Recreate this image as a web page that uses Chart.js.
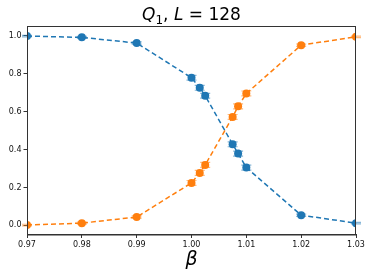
<!DOCTYPE html>
<html>
<head>
<meta charset="utf-8">
<script src="https://cdn.jsdelivr.net/npm/chart.js@4/dist/chart.umd.min.js"></script>
<style>
  html, body { margin: 0; padding: 0; background: #fff; }
  #wrap { width: 374px; height: 280px; }
</style>
</head>
<body>
<div id="wrap"><canvas id="chart" width="374" height="280"></canvas></div>
<script>
// beta values (x axis)
var betas = [0.97, 0.98, 0.99, 1.0, 1.0015, 1.0025, 1.0075, 1.0085, 1.01, 1.02, 1.03];
// Q1 series
var blueVals = [0.999, 0.992, 0.962, 0.779, 0.726, 0.684, 0.428, 0.379, 0.305, 0.054, 0.012];
var orangeVals = [0.002, 0.012, 0.044, 0.224, 0.277, 0.319, 0.572, 0.628, 0.696, 0.951, 0.995];
// error bars
var blueErr = [0.004, 0.005, 0.006, 0.013, 0.013, 0.013, 0.013, 0.013, 0.013, 0.006, 0.004];
var orangeErr = [0.004, 0.005, 0.006, 0.013, 0.013, 0.013, 0.013, 0.013, 0.013, 0.006, 0.004];
var xTicks = [0.97, 0.98, 0.99, 1.0, 1.01, 1.02, 1.03];
var yTicks = [0.0, 0.2, 0.4, 0.6, 0.8, 1.0];

var BLUE = '#1f77b4';
var ORANGE = '#ff7f0e';

function toPoints(xs, ys) {
    return xs.map(function(x, i) { return { x: x, y: ys[i] }; });
}

// error bars, frame and title drawn on the canvas
var extras = {
    id: 'extras',
    beforeDatasetsDraw: function(chart) {
        var ctx = chart.ctx;
        var xs = chart.scales.x, ys = chart.scales.y;
        var sets = [[blueVals, blueErr, 'rgba(31,119,180,0.55)'], [orangeVals, orangeErr, 'rgba(255,127,14,0.55)']];
        ctx.save();
        sets.forEach(function(s) {
            ctx.strokeStyle = s[2];
            ctx.lineWidth = 1.2;
            betas.forEach(function(b, i) {
                var px = xs.getPixelForValue(b);
                var top = ys.getPixelForValue(s[0][i] + s[1][i]);
                var bot = ys.getPixelForValue(s[0][i] - s[1][i]);
                ctx.beginPath();
                ctx.moveTo(px, top); ctx.lineTo(px, bot);
                ctx.moveTo(px - 5, top); ctx.lineTo(px + 5, top);
                ctx.moveTo(px - 5, bot); ctx.lineTo(px + 5, bot);
                ctx.stroke();
            });
        });
        ctx.restore();
    },
    afterDraw: function(chart) {
        var ctx = chart.ctx;
        var a = chart.chartArea;
        ctx.save();
        ctx.strokeStyle = '#333';
        ctx.lineWidth = 1;
        ctx.strokeRect(a.left + 0.5, a.top + 0.5, a.right - a.left - 1, a.bottom - a.top);
        // title Q_1, L = 128
        var parts = [
            ['Q', 'italic 17px "DejaVu Sans"', 0],
            ['1', '12px "DejaVu Sans"', 4],
            [', ', '17px "DejaVu Sans"', 0],
            ['L', 'italic 17px "DejaVu Sans"', 0],
            [' = 128', '17px "DejaVu Sans"', 0]
        ];
        var total = 0;
        parts.forEach(function(p) { ctx.font = p[1]; total += ctx.measureText(p[0]).width; });
        var x = (a.left + a.right) / 2 - total / 2;
        ctx.fillStyle = '#000';
        ctx.textBaseline = 'alphabetic';
        parts.forEach(function(p) {
            ctx.font = p[1];
            ctx.fillText(p[0], x, 20 + p[2]);
            x += ctx.measureText(p[0]).width;
        });
        ctx.restore();
    }
};

var ctx = document.getElementById('chart').getContext('2d');
var chart = new Chart(ctx, {
    type: 'line',
    data: {
        datasets: [{
            data: toPoints(betas, blueVals),
            borderColor: BLUE,
            backgroundColor: BLUE,
            borderWidth: 1.5,
            borderDash: [5, 3],
            pointRadius: 4,
            pointBorderWidth: 0,
            tension: 0
        }, {
            data: toPoints(betas, orangeVals),
            borderColor: ORANGE,
            backgroundColor: ORANGE,
            borderWidth: 1.5,
            borderDash: [5, 3],
            pointRadius: 4,
            pointBorderWidth: 0,
            tension: 0
        }]
    },
    options: {
        responsive: false,
        animation: false,
        events: [],
        layout: { padding: { top: 26, right: 18, left: 0, bottom: 9 } },
        plugins: { legend: { display: false }, title: { display: false }, tooltip: { enabled: false } },
        scales: {
            x: {
                type: 'linear',
                min: 0.97,
                max: 1.03,
                afterBuildTicks: function(scale) {
                    scale.ticks = xTicks.map(function(v) { return { value: v }; });
                },
                afterFit: function(scale) { scale.height = 36.5; },
                grid: { drawOnChartArea: false, drawTicks: true, tickLength: 3.5, color: '#333' },
                border: { color: '#333', width: 1 },
                ticks: {
                    color: '#111',
                    font: { family: 'DejaVu Sans', size: 8 },
                    padding: 2,
                    maxRotation: 0,
                    callback: function(v) { return v.toFixed(2); }
                },
                title: {
                    display: true,
                    text: 'β',
                    color: '#000',
                    font: { family: 'DejaVu Sans', size: 19, style: 'italic' },
                    padding: { top: 0, bottom: 0 }
                }
            },
            y: {
                min: -0.048,
                max: 1.052,
                afterBuildTicks: function(scale) {
                    scale.ticks = yTicks.map(function(v) { return { value: v }; });
                },
                afterFit: function(scale) { scale.width = 27; },
                grid: { drawOnChartArea: false, drawTicks: true, tickLength: 3.5, color: '#333' },
                border: { color: '#333', width: 1 },
                ticks: {
                    color: '#111',
                    font: { family: 'DejaVu Sans', size: 8 },
                    padding: 2,
                    callback: function(v) { return v.toFixed(1); }
                }
            }
        }
    },
    plugins: [extras]
});
</script>
</body>
</html>
